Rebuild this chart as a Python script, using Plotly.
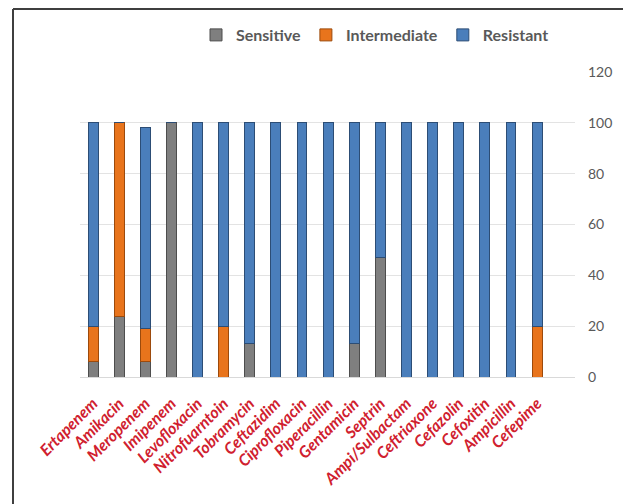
import plotly.graph_objects as go

# Antibiotic susceptibility profile (%), stacked per drug
antibiotics = ["Ertapenem", "Amikacin", "Meropenem", "Imipenem", "Levofloxacin",
               "Nitrofuarntoin", "Tobramycin", "Ceftazidim", "Ciprofloxacin",
               "Piperacillin", "Gentamicin", "Septrin", "Ampi/Sulbactam",
               "Ceftriaxone", "Cefazolin", "Cefoxitin", "Ampicillin", "Cefepime"]
sensitive = [6, 24, 6, 100, 0, 0, 13, 0, 0, 0, 13, 47, 0, 0, 0, 0, 0, 0]
intermediate = [14, 76, 13, 0, 0, 20, 0, 0, 0, 0, 0, 0, 0, 0, 0, 0, 0, 20]
resistant = [80, 0, 79, 0, 100, 80, 87, 100, 100, 100, 87, 53, 100, 100, 100, 100, 100, 80]
y_ticks = [0, 20, 40, 60, 80, 100, 120]

series = [
    ("Sensitive", sensitive, "#7f7f7f", "#4d4d4d"),
    ("Intermediate", intermediate, "#e8741c", "#9c4a0c"),
    ("Resistant", resistant, "#4a7ebb", "#2c4d75"),
]

fig = go.Figure()
for name, vals, fill, edge in series:
    fig.add_trace(go.Bar(
        x=list(range(len(antibiotics))), y=vals, name=name,
        marker=dict(color=fill, line=dict(color=edge, width=1)),
    ))

W, H = 623, 504
L, R, T, B = 80, 48, 72, 127
pw, ph = W - L - R, H - T - B


def px(x):
    return (x - L) / pw


def py(y):
    return (H - B - y) / ph


frame = "#3f3f3f"
fig.update_layout(
    width=W, height=H,
    barmode="stack", bargap=0.62,
    plot_bgcolor="white", paper_bgcolor="white",
    margin=dict(l=L, r=R, t=T, b=B),
    font=dict(family="Lato", color="#595959"),
    legend=dict(orientation="h", x=px(375), xanchor="center", y=py(35), yanchor="middle",
                font=dict(size=16, color="#595959", family="Lato", weight="bold"),
                itemwidth=30, traceorder="normal", bgcolor="rgba(0,0,0,0)"),
    xaxis=dict(
        range=[-0.5, 18.45], tickmode="array",
        tickvals=list(range(len(antibiotics))), ticktext=antibiotics,
        tickangle=-45, showgrid=False, zeroline=False,
        showline=True, linecolor="#d9d9d9", linewidth=1, ticks="",
        ticklabelstandoff=10,
        tickfont=dict(color="#d0202e", size=16, family="Lato", weight="bold", style="italic"),
    ),
    yaxis=dict(
        range=[0, 120], side="right", tickvals=y_ticks,
        showgrid=True, gridcolor="#e3e3e3", gridwidth=1, zeroline=False,
        ticklabelstandoff=12, tickfont=dict(size=14, color="#595959", family="Lato"),
    ),
    shapes=[
        dict(type="line", xref="paper", yref="paper", x0=px(13), x1=px(623),
             y0=py(9), y1=py(9), line=dict(color=frame, width=2)),
        dict(type="line", xref="paper", yref="paper", x0=px(13), x1=px(13),
             y0=py(9), y1=py(504), line=dict(color=frame, width=2)),
    ],
)

fig.write_html("out.html")
